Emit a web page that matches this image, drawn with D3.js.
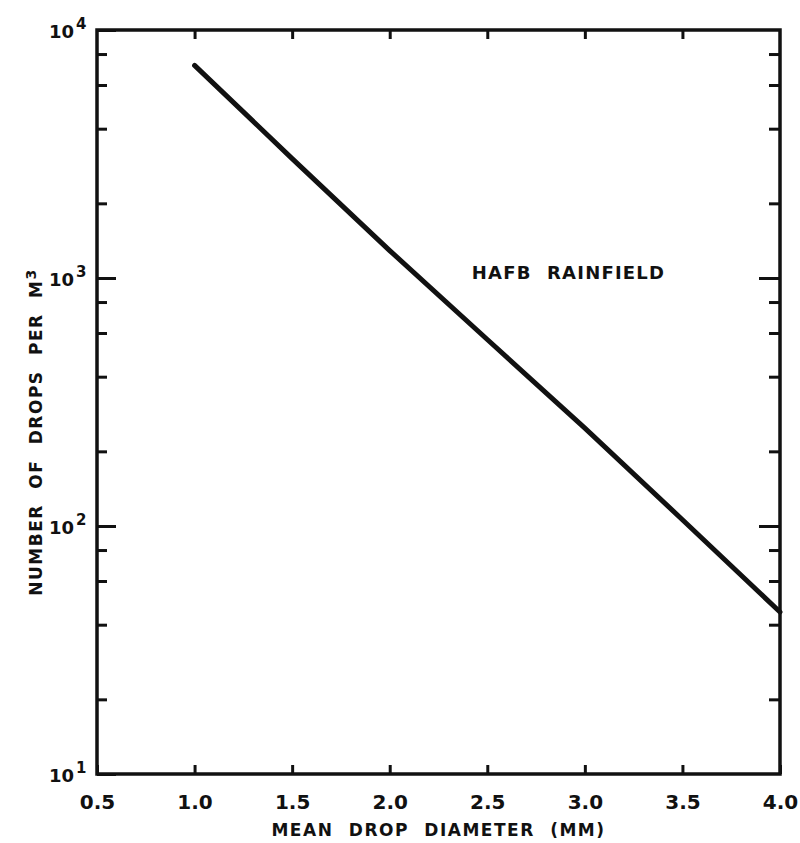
<!DOCTYPE html>
<html>
<head>
<meta charset="utf-8">
<script src="https://cdn.jsdelivr.net/npm/d3@7"></script>
<style>
  html, body { margin: 0; padding: 0; background: #fff; }
  svg { display: block; }
  text { font-family: "DejaVu Sans", "Liberation Sans", sans-serif; font-weight: bold; fill: #111; }
</style>
</head>
<body>
<script>
// ---- data ----
const diameters = [1.0, 1.5, 2.0, 2.5, 3.0, 3.5, 4.0];
const drops = [7200, 3030, 1290, 565, 248, 106, 45];
const xTickValues = [0.5, 1.0, 1.5, 2.0, 2.5, 3.0, 3.5, 4.0];
const xTickLabels = ["0.5", "1.0", "1.5", "2.0", "2.5", "3.0", "3.5", "4.0"];
const yMajorValues = [10, 100, 1000, 10000];
const yMajorExponents = ["1", "2", "3", "4"];
const yMinorValues = [20, 40, 60, 80, 200, 400, 600, 800, 2000, 4000, 6000, 8000];
const seriesLabel = "HAFB RAINFIELD";
const xTitle = "MEAN DROP DIAMETER (MM)";
const yTitle = "NUMBER OF DROPS PER M";
const yTitleSup = "3";

// ---- layout ----
const W = 800, H = 843;
const m = { left: 97, right: 20, top: 30, bottom: 69 };
const iw = W - m.left - m.right, ih = H - m.top - m.bottom;

const svg = d3.select("body").append("svg").attr("width", W).attr("height", H);
const g = svg.append("g").attr("transform", `translate(${m.left},${m.top})`);

const x = d3.scaleLinear().domain([0.5, 4.0]).range([0, iw]);
const y = d3.scaleLog().domain([10, 10000]).range([ih, 0]);

// ticks
const xb = g.append("g").attr("transform", `translate(0,${ih})`)
  .call(d3.axisBottom(x).tickValues(xTickValues).tickSize(-9).tickPadding(21)
    .tickFormat((d, i) => xTickLabels[i]));
const xt = g.append("g")
  .call(d3.axisTop(x).tickValues(xTickValues.slice(1, -1)).tickSize(-9).tickFormat(""));
xt.selectAll("text").remove();
xb.selectAll("text").style("font-size", "20px").attr("dy", "0.71em");

const yl = g.append("g")
  .call(d3.axisLeft(y).tickValues(yMajorValues).tickSize(-19).tickPadding(12).tickFormat(""));
const ylm = g.append("g")
  .call(d3.axisLeft(y).tickValues(yMinorValues).tickSize(-10).tickFormat(""));
const yr = g.append("g").attr("transform", `translate(${iw},0)`)
  .call(d3.axisRight(y).tickValues(yMajorValues.slice(1, -1)).tickSize(-21).tickFormat(""));
const yrm = g.append("g").attr("transform", `translate(${iw},0)`)
  .call(d3.axisRight(y).tickValues(yMinorValues).tickSize(-11).tickFormat(""));

[xb, xt, yl, ylm, yr, yrm].forEach(a => {
  a.select(".domain").remove();
  a.selectAll(".tick line").attr("stroke", "#111").attr("stroke-width", 3);
});

// y tick labels with superscripts
yl.selectAll(".tick").each(function(d, i) {
  const t = d3.select(this).append("text")
    .attr("x", -48).attr("y", 0).attr("dy", "0.4em")
    .style("font-size", "18px").attr("text-anchor", "start");
  t.append("tspan").text("10");
  t.append("tspan").attr("dx", "2").attr("dy", "-0.55em").style("font-size", "15px").text(yMajorExponents[i]);
});

// frame
g.append("rect").attr("x", 0).attr("y", 0).attr("width", iw).attr("height", ih)
  .attr("fill", "none").attr("stroke", "#111").attr("stroke-width", 3.5);

// line
const line = d3.line().x((d, i) => x(diameters[i])).y(d => y(d));
g.append("path").datum(drops).attr("d", line)
  .attr("fill", "none").attr("stroke", "#111").attr("stroke-width", 5).attr("stroke-linecap", "round");

// series label
g.append("text").attr("x", x(2.4) + 4).attr("y", y(1000) + 1)
  .style("font-size", "18px").style("letter-spacing", "1.2px").style("word-spacing", "8px")
  .text(seriesLabel);

// axis titles
svg.append("text").attr("x", m.left + iw / 2).attr("y", 836).attr("text-anchor", "middle")
  .style("font-size", "17px").style("letter-spacing", "1.5px").style("word-spacing", "8px")
  .text(xTitle);

const yt = svg.append("text").attr("transform", `translate(42,${m.top + 402}) rotate(-90)`)
  .attr("text-anchor", "middle")
  .style("font-size", "17px").style("letter-spacing", "1.5px").style("word-spacing", "8px");
yt.append("tspan").text(yTitle);
yt.append("tspan").attr("dy", "-0.45em").style("font-size", "14px").text(yTitleSup);
</script>
</body>
</html>
